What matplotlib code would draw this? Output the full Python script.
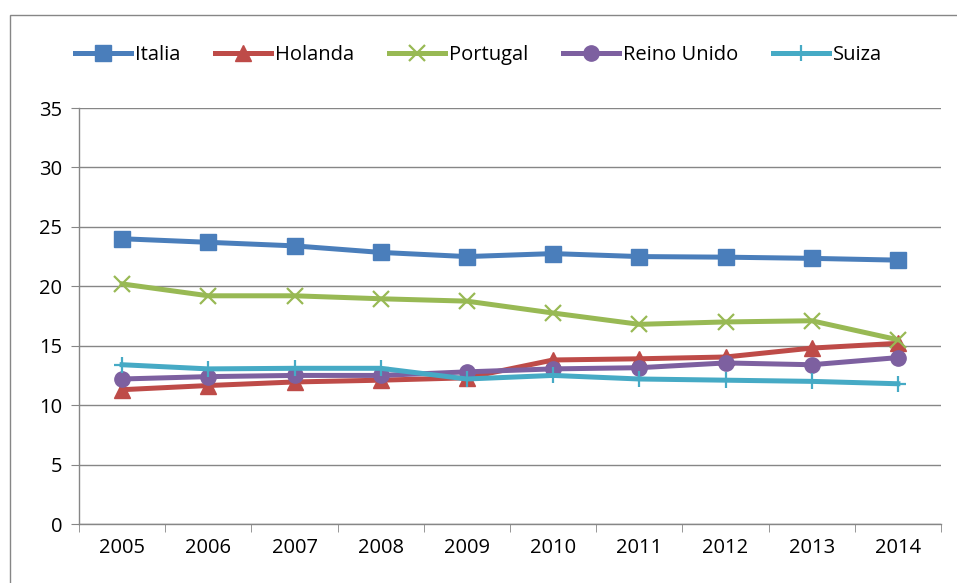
import matplotlib.pyplot as plt
from matplotlib.patches import Rectangle

years = ['2005', '2006', '2007', '2008', '2009', '2010', '2011', '2012', '2013', '2014']
italia = [24.0, 23.7, 23.4, 22.85, 22.5, 22.75, 22.5, 22.45, 22.35, 22.2]
holanda = [11.3, 11.65, 11.95, 12.1, 12.3, 13.8, 13.9, 14.05, 14.8, 15.2]
portugal = [20.2, 19.2, 19.2, 18.95, 18.75, 17.75, 16.8, 17.0, 17.1, 15.5]
reino_unido = [12.2, 12.4, 12.5, 12.5, 12.8, 13.05, 13.15, 13.55, 13.4, 14.0]
suiza = [13.4, 13.05, 13.1, 13.1, 12.2, 12.5, 12.2, 12.1, 12.0, 11.8]

series = [
    ('Italia', italia, '#4A7EBB', 's', 11),
    ('Holanda', holanda, '#BE4B48', '^', 11),
    ('Portugal', portugal, '#98B954', 'x', 11),
    ('Reino Unido', reino_unido, '#7D60A0', 'o', 11),
    ('Suiza', suiza, '#46AAC5', '+', 12),
]

plt.rcParams['font.family'] = ['Open Sans', 'DejaVu Sans']
fig = plt.figure(figsize=(9.57, 5.83), dpi=100)
ax = fig.add_axes([79 / 957, 1 - 524 / 583, (941 - 79) / 957, (524 - 108) / 583])

x = list(range(len(years)))
for name, vals, col, mk, ms in series:
    ax.plot(x, vals, color=col, lw=3.6, marker=mk, markersize=ms,
            markeredgewidth=1.6 if mk in 'x+' else 1, label=name)

ax.set_xlim(-0.5, len(years) - 0.5)
ax.set_ylim(0, 35)
ax.set_yticks(range(0, 36, 5))
ax.set_xticks(x)
ax.set_xticklabels(years)
ax.set_xticks([i - 0.5 for i in range(len(years) + 1)], minor=True)
ax.tick_params(axis='x', which='major', length=0, pad=10, labelsize=14.5)
ax.tick_params(axis='x', which='minor', length=6, color='#868686')
ax.tick_params(axis='y', length=6, color='#868686', labelsize=14.5, pad=6)
ax.grid(axis='y', color='#868686', lw=1)
ax.set_axisbelow(True)
for s in ['top', 'right']:
    ax.spines[s].set_visible(False)
for s in ['left', 'bottom']:
    ax.spines[s].set_color('#868686')
    ax.spines[s].set_linewidth(1)

fig.legend(loc='center', bbox_to_anchor=(0.5, 1 - 55 / 583), ncol=5, frameon=False,
           fontsize=14.5, handlelength=2.8, handletextpad=0.2, columnspacing=1.7)

fig.patches.append(Rectangle((10 / 957, -0.1), 1.2, 1 - 15 / 583 + 0.1,
                             transform=fig.transFigure, fill=False,
                             edgecolor='#868686', lw=1))

fig.savefig('out.png', dpi=100)
